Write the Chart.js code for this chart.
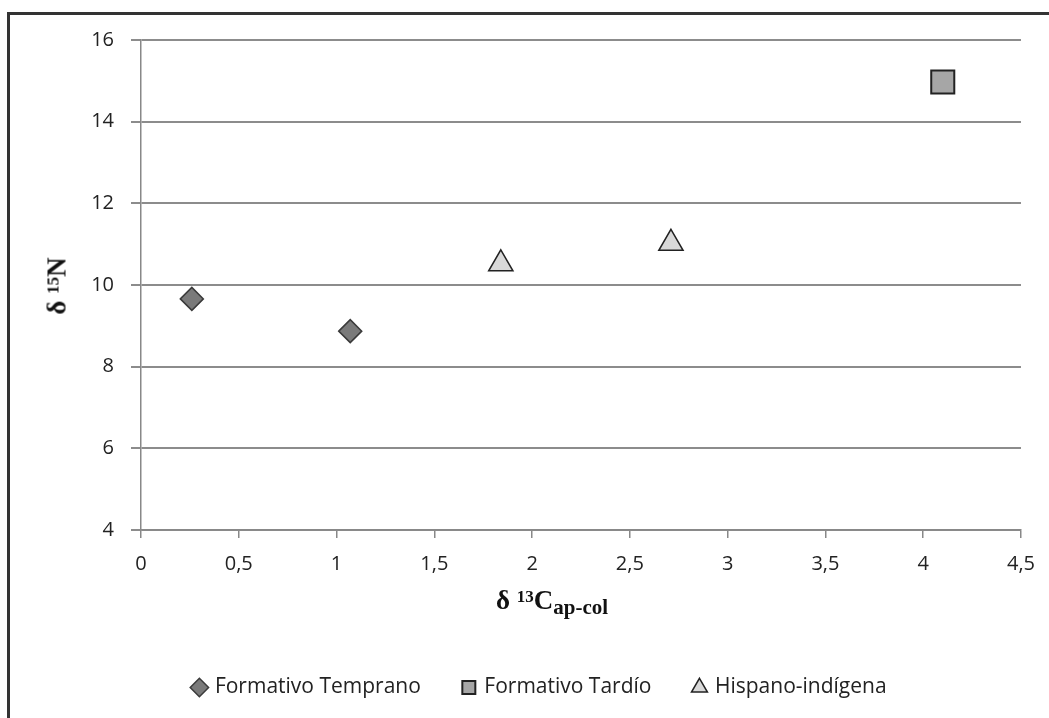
<!DOCTYPE html>
<html>
<head>
<meta charset="utf-8">
<script src="https://cdn.jsdelivr.net/npm/chart.js@4.4.0/dist/chart.umd.min.js"></script>
<style>
  html, body { margin: 0; padding: 0; background: #fff; }
  #wrap { position: relative; width: 1049px; height: 718px; overflow: hidden; }
  #marco { position: absolute; left: 7px; top: 12px; right: -6px; bottom: -6px; border-left: 3px solid #333; border-top: 3px solid #333; }
  canvas { position: absolute; left: 0; top: 0; }
  .tituloEje { position: absolute; font-family: "Liberation Serif", "Times New Roman", serif; font-weight: bold; color: #111; white-space: nowrap; line-height: 27px; font-size: 27px; }
  .tituloEje sup { font-size: 17px; line-height: 0; vertical-align: 7px; }
  .tituloEje sub { font-size: 21px; line-height: 0; vertical-align: -5px; }
  #tituloX { left: 496px; top: 587px; }
  #tituloY { left: 57px; top: 286px; transform: translate(-50%, -50%) rotate(-90deg); }
</style>
</head>
<body>
<div id="wrap">
  <div id="marco"></div>
  <canvas id="myChart" width="1049" height="718"></canvas>
  <div class="tituloEje" id="tituloX">δ <sup>13</sup>C<sub>ap-col</sub></div>
  <div class="tituloEje" id="tituloY">δ <sup>15</sup>N</div>
</div>
<script>
/* Datos */
const series = ["Formativo Temprano", "Formativo Tardío", "Hispano-indígena"];
const tempranoX = [0.26, 1.07];
const tempranoY = [9.66, 8.87];
const tardioX = [4.1];
const tardioY = [14.97];
const hispanoX = [1.84, 2.71];
const hispanoY = [10.52, 11.02];
const xTicks = ["0", "0,5", "1", "1,5", "2", "2,5", "3", "3,5", "4", "4,5"];
const yTicks = ["4", "6", "8", "10", "12", "14", "16"];

const ctx = document.getElementById("myChart");

const toPoints = (xs, ys) => xs.map((x, i) => ({ x: x, y: ys[i] }));

const config = {
  type: "scatter",
  data: {
    datasets: [
      {
        label: series[0],
        data: toPoints(tempranoX, tempranoY),
        pointStyle: "rectRot",
        pointRadius: 11.5,
        pointHoverRadius: 11.5,
        backgroundColor: "#7a7a7a",
        borderColor: "#3a3a3a",
        borderWidth: 1.5,
      },
      {
        label: series[1],
        data: toPoints(tardioX, tardioY),
        pointStyle: "rect",
        pointRadius: 16.3,
        pointHoverRadius: 16.3,
        backgroundColor: "#a6a6a6",
        borderColor: "#222",
        borderWidth: 2,
      },
      {
        label: series[2],
        data: toPoints(hispanoX, hispanoY),
        pointStyle: "triangle",
        pointRadius: 14,
        pointHoverRadius: 14,
        backgroundColor: "#d9d9d9",
        borderColor: "#222",
        borderWidth: 1.5,
      },
    ],
  },
  options: {
    responsive: false,
    animation: false,
    devicePixelRatio: 1,
    layout: { padding: { top: 40, right: 27, left: 59, bottom: 10 } },
    plugins: {
      tooltip: { enabled: false },
      legend: {
        position: "bottom",
        labels: {
          usePointStyle: true,
          boxWidth: 10,
          boxHeight: 13,
          padding: 43,
          color: "#222",
          font: { family: "'Open Sans'", size: 21 },
        },
      },
    },
    scales: {
      x: {
        type: "linear",
        min: 0,
        max: 4.5,
        afterFit: (scale) => { scale.height = 104; },
        afterBuildTicks: (scale) => {
          scale.ticks = xTicks.map((t, i) => ({ value: i * 0.5 }));
        },
        ticks: {
          padding: 14,
          color: "#222",
          maxRotation: 0,
          font: { family: "'Open Sans'", size: 20 },
          callback: (v, i) => xTicks[i],
        },
        grid: { drawOnChartArea: false, drawTicks: true, tickLength: 8, color: "#888", lineWidth: 1.5 },
        border: { display: true, color: "#888", width: 1.5 },
      },
      y: {
        type: "linear",
        min: 4,
        max: 16,
        afterFit: (scale) => { scale.width = 82; },
        afterBuildTicks: (scale) => {
          scale.ticks = yTicks.map((t) => ({ value: Number(t) }));
        },
        ticks: {
          padding: 17,
          color: "#222",
          font: { family: "'Open Sans'", size: 20 },
          callback: (v, i) => yTicks[i],
        },
        grid: { drawTicks: true, tickLength: 10, color: "#8c8c8c", lineWidth: 2 },
        border: { display: true, color: "#888", width: 1.5 },
      },
    },
  },
};

const myChart = new Chart(ctx, config);
</script>
</body>
</html>
